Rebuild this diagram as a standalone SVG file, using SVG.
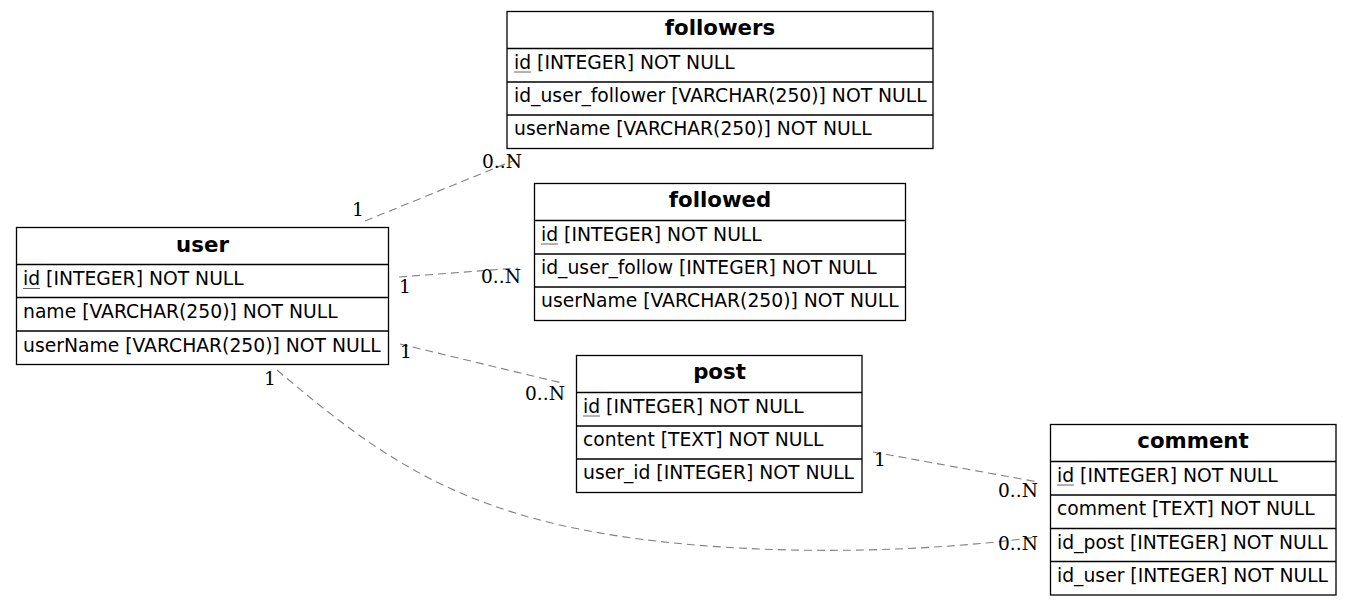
<svg xmlns="http://www.w3.org/2000/svg" width="1352" height="606" viewBox="0 0 1352 606">
  <style>
    .box { fill: #ffffff; stroke: #000000; stroke-width: 1.3; }
    .sep { stroke: #000000; stroke-width: 1.3; }
    .head { font-family: "DejaVu Sans", sans-serif; font-weight: bold; font-size: 21.3px; fill: #000000; text-anchor: middle; }
    .col { font-family: "DejaVu Sans", sans-serif; font-size: 18.75px; fill: #000000; }
    .pk { stroke: #666666; stroke-width: 1; }
    .rel { fill: none; stroke: #808080; stroke-width: 1.1; stroke-dasharray: 8 5; }
    .card { font-family: "DejaVu Serif", serif; font-size: 18.6px; fill: #000000; }
  </style>

  <!-- relationship lines -->
  <g id="connectors">
    <path class="rel" d="M365,221 L515,160"/>
    <path class="rel" d="M399,277 L518,268"/>
    <path class="rel" d="M400,344 L562,383"/>
    <path class="rel" d="M873,452 L1038,482"/>
    <path class="rel" d="M277,370 C360,440 430,495 560,525 C700,557 900,556 1037,537"/>
    <text class="card" x="352" y="216">1</text>
    <text class="card" x="482" y="168">0..N</text>
    <text class="card" x="399" y="293">1</text>
    <text class="card" x="481" y="283">0..N</text>
    <text class="card" x="400" y="358">1</text>
    <text class="card" x="525" y="400">0..N</text>
    <text class="card" x="874" y="466">1</text>
    <text class="card" x="998" y="497">0..N</text>
    <text class="card" x="264" y="385">1</text>
    <text class="card" x="998" y="550">0..N</text>
  </g>

  <!-- user table -->
  <g id="user">
    <rect class="box" x="16.5" y="227.5" width="372" height="137"/>
    <line class="sep" x1="16.5" y1="264.5" x2="388.5" y2="264.5"/>
    <line class="sep" x1="16.5" y1="297.5" x2="388.5" y2="297.5"/>
    <line class="sep" x1="16.5" y1="331" x2="388.5" y2="331"/>
    <text class="head" x="202.5" y="252">user</text>
    <text class="col" x="23" y="285">id [INTEGER] NOT NULL</text>
    <line class="pk" x1="23" y1="288.5" x2="40" y2="288.5"/>
    <text class="col" x="23" y="318">name [VARCHAR(250)] NOT NULL</text>
    <text class="col" x="23" y="351.5">userName [VARCHAR(250)] NOT NULL</text>
  </g>

  <!-- followers table -->
  <g id="followers">
    <rect class="box" x="507" y="11.5" width="426" height="137"/>
    <line class="sep" x1="507" y1="48.5" x2="933" y2="48.5"/>
    <line class="sep" x1="507" y1="82" x2="933" y2="82"/>
    <line class="sep" x1="507" y1="115" x2="933" y2="115"/>
    <text class="head" x="720" y="34.5">followers</text>
    <text class="col" x="514" y="68.5">id [INTEGER] NOT NULL</text>
    <line class="pk" x1="514" y1="72" x2="531" y2="72"/>
    <text class="col" x="514" y="102">id_user_follower [VARCHAR(250)] NOT NULL</text>
    <text class="col" x="514" y="135">userName [VARCHAR(250)] NOT NULL</text>
  </g>

  <!-- followed table -->
  <g id="followed">
    <rect class="box" x="534.5" y="183.5" width="371" height="137"/>
    <line class="sep" x1="534.5" y1="220.5" x2="905.5" y2="220.5"/>
    <line class="sep" x1="534.5" y1="254" x2="905.5" y2="254"/>
    <line class="sep" x1="534.5" y1="287" x2="905.5" y2="287"/>
    <text class="head" x="720" y="206.5">followed</text>
    <text class="col" x="541" y="240.5">id [INTEGER] NOT NULL</text>
    <line class="pk" x1="541" y1="244" x2="558" y2="244"/>
    <text class="col" x="541" y="274">id_user_follow [INTEGER] NOT NULL</text>
    <text class="col" x="541" y="307">userName [VARCHAR(250)] NOT NULL</text>
  </g>

  <!-- post table -->
  <g id="post">
    <rect class="box" x="576.5" y="355.5" width="285.5" height="137"/>
    <line class="sep" x1="576.5" y1="392.5" x2="862" y2="392.5"/>
    <line class="sep" x1="576.5" y1="426" x2="862" y2="426"/>
    <line class="sep" x1="576.5" y1="459" x2="862" y2="459"/>
    <text class="head" x="719.5" y="378.5">post</text>
    <text class="col" x="583" y="412.5">id [INTEGER] NOT NULL</text>
    <line class="pk" x1="583" y1="416" x2="600" y2="416"/>
    <text class="col" x="583" y="446">content [TEXT] NOT NULL</text>
    <text class="col" x="583" y="479">user_id [INTEGER] NOT NULL</text>
  </g>

  <!-- comment table -->
  <g id="comment">
    <rect class="box" x="1050.5" y="424.5" width="285.5" height="170.5"/>
    <line class="sep" x1="1050.5" y1="461.5" x2="1336" y2="461.5"/>
    <line class="sep" x1="1050.5" y1="495" x2="1336" y2="495"/>
    <line class="sep" x1="1050.5" y1="528.5" x2="1336" y2="528.5"/>
    <line class="sep" x1="1050.5" y1="561.5" x2="1336" y2="561.5"/>
    <text class="head" x="1193" y="447.5">comment</text>
    <text class="col" x="1057" y="481.5">id [INTEGER] NOT NULL</text>
    <line class="pk" x1="1057" y1="485" x2="1074" y2="485"/>
    <text class="col" x="1057" y="515">comment [TEXT] NOT NULL</text>
    <text class="col" x="1057" y="548.5">id_post [INTEGER] NOT NULL</text>
    <text class="col" x="1057" y="581.5">id_user [INTEGER] NOT NULL</text>
  </g>
</svg>
